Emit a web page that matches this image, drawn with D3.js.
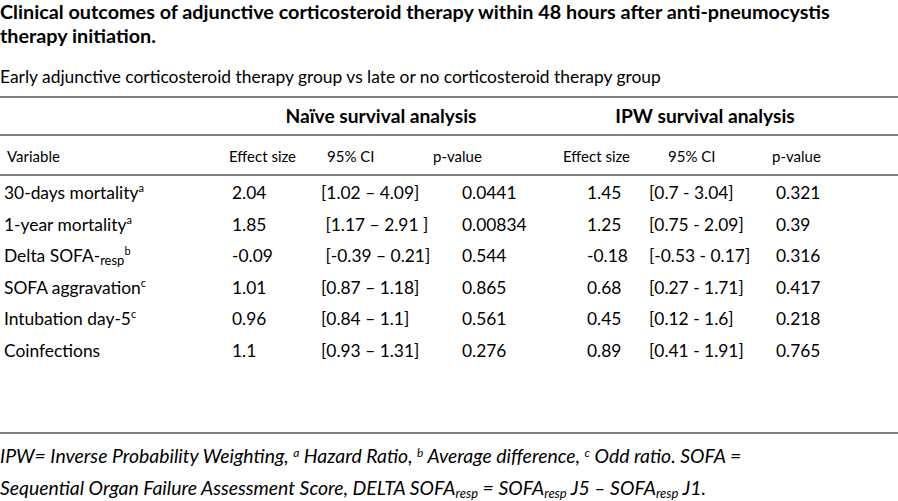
<!DOCTYPE html>
<html>
<head>
<meta charset="utf-8">
<script src="https://cdn.jsdelivr.net/npm/d3@7"></script>
<style>
  body { margin: 0; background: #fff; }
  svg text { font-family: Lato, "Open Sans", sans-serif; fill: #000; white-space: pre; }
</style>
</head>
<body>
<div id="table"></div>
<script>
// table content
const variables = ["30-days mortality", "1-year mortality", "Delta SOFA-", "SOFA aggravation", "Intubation day-5", "Coinfections"];
const varSub = ["", "", "resp", "", "", ""];
const varSup = ["a", "a", "b", "c", "c", ""];
const naiveEffect = ["2.04", "1.85", "-0.09", "1.01", "0.96", "1.1"];
const naiveCI = ["[1.02 \u2013 4.09]", " [1.17 \u2013 2.91 ]", " [-0.39 \u2013 0.21]", "[0.87 \u2013 1.18]", "[0.84 \u2013 1.1]", "[0.93 \u2013 1.31]"];
const naiveP = ["0.0441", "0.00834", "0.544", "0.865", "0.561", "0.276"];
const ipwEffect = ["1.45", "1.25", "-0.18", "0.68", "0.45", "0.89"];
const ipwCI = ["[0.7 - 3.04]", "[0.75 - 2.09]", "[-0.53 - 0.17]", "[0.27 - 1.71]", "[0.12 - 1.6]", "[0.41 - 1.91]"];
const ipwP = ["0.321", "0.39", "0.316", "0.417", "0.218", "0.765"];
const colHeaders = ["Variable", "Effect size", "95% CI", "p-value", "Effect size", "95% CI", "p-value"];
const groupHeaders = ["Na\u00efve survival analysis", "IPW survival analysis"];

const width = 898, height = 501;

const svg = d3.select("#table")
  .append("svg")
  .attr("width", width)
  .attr("height", height);

// column positions (left edge of text)
const colKeys = ["var", "ne", "nci", "np", "ie", "ici", "ip"];
const xCol = d3.scaleOrdinal().domain(colKeys).range([4, 232, 321, 462, 587, 649, 776]);
const xHead = d3.scaleOrdinal().domain(colKeys).range([7, 229, 327, 433, 563, 668, 772]);
const xGroup = d3.scaleOrdinal().domain(groupHeaders).range([381, 705]);

// row positions (baselines)
const y = d3.scalePoint()
  .domain(variables)
  .range([199, 357]);

// title
svg.append("text")
  .attr("x", 0).attr("y", 19)
  .style("font-size", "19.8px").style("font-weight", "bold")
  .text("Clinical outcomes of adjunctive corticosteroid therapy within 48 hours after anti-pneumocystis");
svg.append("text")
  .attr("x", 0).attr("y", 43)
  .style("font-size", "19.8px").style("font-weight", "bold")
  .text("therapy initiation.");

svg.append("text")
  .attr("x", 0).attr("y", 83)
  .style("font-size", "17.4px")
  .text("Early adjunctive corticosteroid therapy group vs late or no corticosteroid therapy group");

// horizontal rules
const rules = [97, 135, 175, 433];
svg.selectAll("line.rule")
  .data(rules)
  .enter()
  .append("line")
  .attr("class", "rule")
  .attr("x1", 0).attr("x2", width)
  .attr("y1", d => d).attr("y2", d => d)
  .attr("stroke", "#555")
  .attr("stroke-width", 1.4);

// group headers
svg.selectAll("text.group")
  .data(groupHeaders)
  .enter()
  .append("text")
  .attr("class", "group")
  .attr("x", d => xGroup(d))
  .attr("y", 123)
  .attr("text-anchor", "middle")
  .style("font-size", "19.2px").style("font-weight", "bold")
  .text(d => d);

// column headers
svg.selectAll("text.colhead")
  .data(colHeaders)
  .enter()
  .append("text")
  .attr("class", "colhead")
  .attr("x", (d, i) => xHead(colKeys[i]))
  .attr("y", 162)
  .style("font-size", "15px")
  .text(d => d);

// body rows
const rows = svg.selectAll("g.row")
  .data(variables)
  .enter()
  .append("g")
  .attr("class", "row")
  .attr("transform", d => "translate(0," + y(d) + ")");

const label = rows.append("text")
  .attr("x", xCol("var"))
  .style("font-size", "17.4px");
label.append("tspan").text(d => d);
label.append("tspan")
  .attr("dy", 3)
  .style("font-size", "13px")
  .text((d, i) => varSub[i]);
label.append("tspan")
  .attr("dy", (d, i) => varSub[i] ? -10 : -7)
  .style("font-size", "11px")
  .text((d, i) => varSup[i]);

const cellCols = [
  ["ne", naiveEffect], ["nci", naiveCI], ["np", naiveP],
  ["ie", ipwEffect], ["ici", ipwCI], ["ip", ipwP]
];
cellCols.forEach(([key, values]) => {
  rows.append("text")
    .attr("x", xCol(key))
    .style("font-size", "17.4px")
    .text((d, i) => values[i]);
});

// footnote
const fn1 = svg.append("text")
  .attr("x", 0).attr("y", 463)
  .style("font-size", "19.4px").style("font-style", "italic");
fn1.append("tspan").text("IPW= Inverse Probability Weighting, ");
fn1.append("tspan").attr("dy", -6).style("font-size", "12px").text("a");
fn1.append("tspan").attr("dy", 6).text(" Hazard Ratio, ");
fn1.append("tspan").attr("dy", -6).style("font-size", "12px").text("b");
fn1.append("tspan").attr("dy", 6).text(" Average difference, ");
fn1.append("tspan").attr("dy", -6).style("font-size", "12px").text("c");
fn1.append("tspan").attr("dy", 6).text(" Odd ratio. SOFA =");

const fn2 = svg.append("text")
  .attr("x", 0).attr("y", 495)
  .style("font-size", "19.4px").style("font-style", "italic");
fn2.append("tspan").text("Sequential Organ Failure Assessment Score, DELTA SOFA");
fn2.append("tspan").attr("dy", 3).style("font-size", "13px").text("resp");
fn2.append("tspan").attr("dy", -3).text(" = SOFA");
fn2.append("tspan").attr("dy", 3).style("font-size", "13px").text("resp");
fn2.append("tspan").attr("dy", -3).text(" J5 \u2013 SOFA");
fn2.append("tspan").attr("dy", 3).style("font-size", "13px").text("resp");
fn2.append("tspan").attr("dy", -3).text(" J1.");
</script>
</body>
</html>
